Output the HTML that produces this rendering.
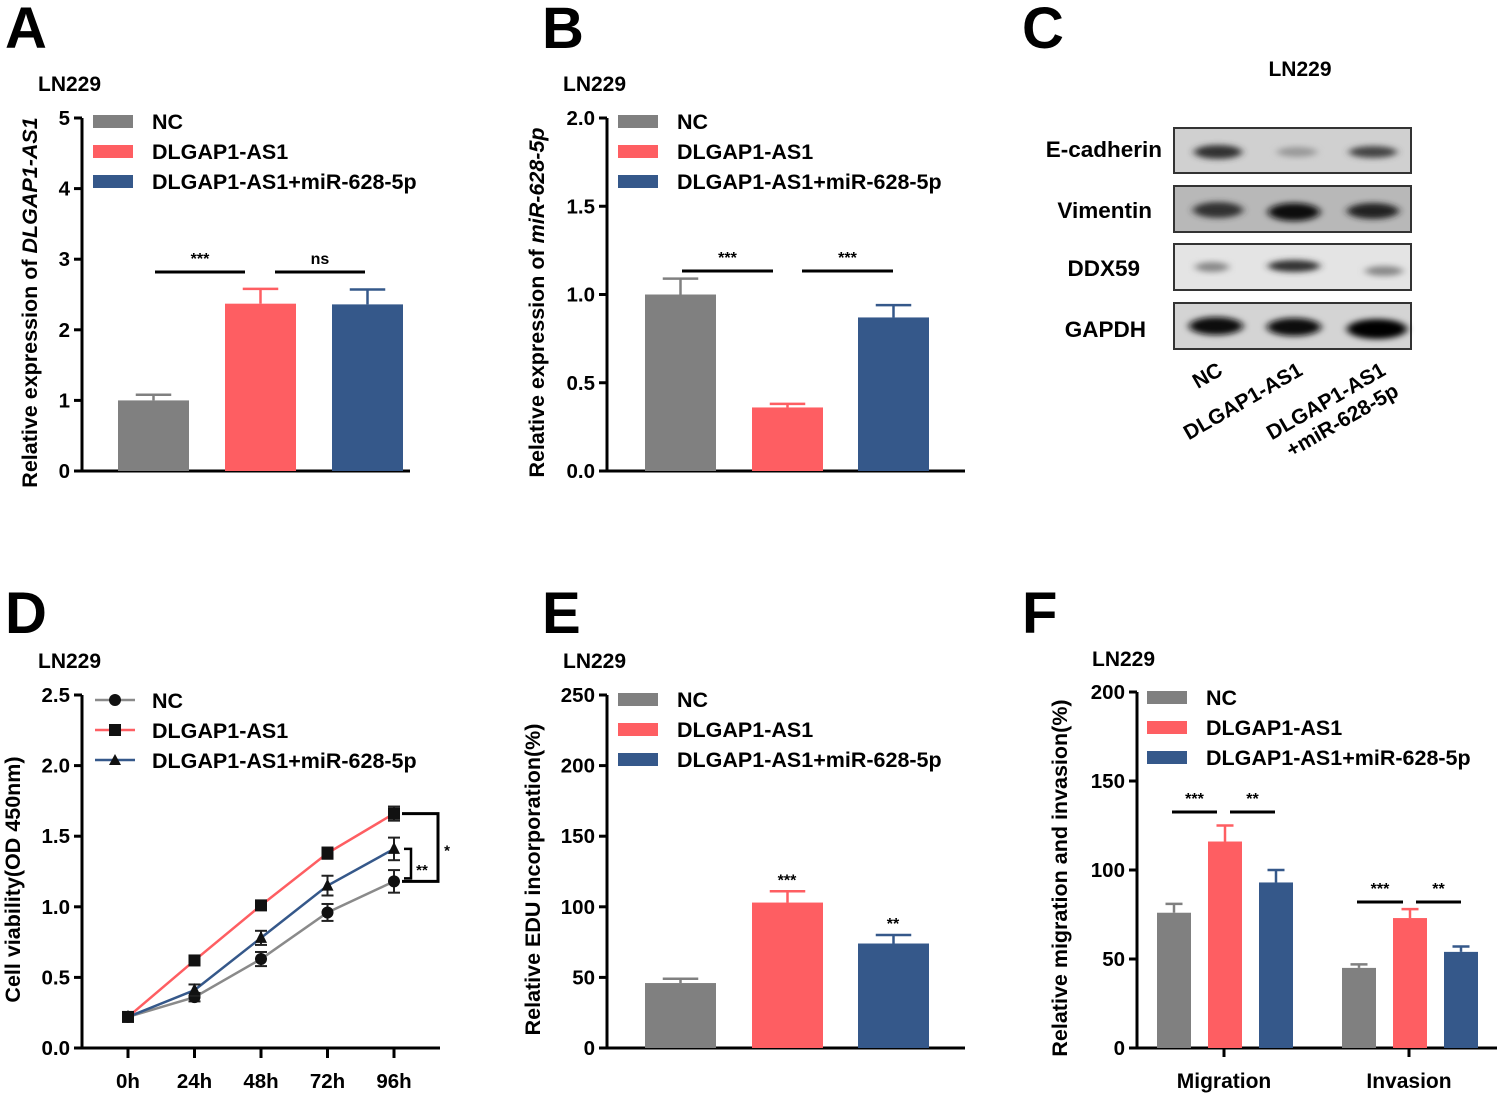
<!DOCTYPE html>
<html><head><meta charset="utf-8"><style>
html,body{margin:0;padding:0;background:#fff;}
svg{display:block;font-family:"Liberation Sans",Arial,sans-serif;font-weight:bold;}
</style></head><body>
<svg id="fig" width="1500" height="1095" viewBox="0 0 1500 1095" xmlns="http://www.w3.org/2000/svg">
<defs>
<filter id="blur" x="-20%" y="-50%" width="140%" height="200%"><feGaussianBlur stdDeviation="4 3"/></filter>
</defs>
<text x="5" y="48" font-size="58">A</text>
<text x="542" y="48" font-size="58">B</text>
<text x="1022" y="48" font-size="58">C</text>
<text x="5" y="633" font-size="58">D</text>
<text x="542" y="633" font-size="58">E</text>
<text x="1022" y="633" font-size="58">F</text>
<text x="38" y="91" font-size="21">LN229</text>
<text x="563" y="91" font-size="21">LN229</text>
<text x="1300" y="76" font-size="21" text-anchor="middle">LN229</text>
<text x="38" y="668" font-size="21">LN229</text>
<text x="563" y="668" font-size="21">LN229</text>
<text x="1092" y="666" font-size="21">LN229</text>

<g>
  <g>
    <rect x="1174" y="128" width="237" height="45" fill="#d0d0d0" stroke="#333" stroke-width="2"/>
    <ellipse cx="1218" cy="152" rx="24" ry="7" fill="#333" filter="url(#blur)"/>
    <ellipse cx="1297" cy="152" rx="20" ry="5" fill="#999" filter="url(#blur)"/>
    <ellipse cx="1373" cy="152" rx="24" ry="6" fill="#444" filter="url(#blur)"/>
  </g>
  <g>
    <rect x="1174" y="186" width="237" height="46" fill="#b8b8b8" stroke="#333" stroke-width="2"/>
    <ellipse cx="1218" cy="210" rx="25" ry="8" fill="#333" filter="url(#blur)"/>
    <ellipse cx="1294" cy="212" rx="26" ry="9" fill="#111" filter="url(#blur)"/>
    <ellipse cx="1373" cy="211" rx="26" ry="8" fill="#222" filter="url(#blur)"/>
  </g>
  <g>
    <rect x="1174" y="244" width="237" height="46" fill="#e4e4e4" stroke="#333" stroke-width="2"/>
    <ellipse cx="1212" cy="267" rx="17" ry="5" fill="#888" filter="url(#blur)"/>
    <ellipse cx="1294" cy="266" rx="26" ry="6" fill="#333" filter="url(#blur)"/>
    <ellipse cx="1384" cy="271" rx="19" ry="5" fill="#888" filter="url(#blur)"/>
  </g>
  <g>
    <rect x="1174" y="303" width="237" height="46" fill="#d4d4d4" stroke="#333" stroke-width="2"/>
    <ellipse cx="1216" cy="326" rx="27" ry="9" fill="#111" filter="url(#blur)"/>
    <ellipse cx="1294" cy="327" rx="27" ry="9" fill="#111" filter="url(#blur)"/>
    <ellipse cx="1377" cy="329" rx="30" ry="10" fill="#000" filter="url(#blur)"/>
  </g>
  <text x="1162" y="157" font-size="22.5" text-anchor="end">E-cadherin</text>
  <text x="1152" y="218" font-size="22.5" text-anchor="end">Vimentin</text>
  <text x="1140" y="276" font-size="22.5" text-anchor="end">DDX59</text>
  <text x="1146" y="337" font-size="22.5" text-anchor="end">GAPDH</text>
  <text transform="translate(1224,374) rotate(-30)" font-size="21" text-anchor="end">NC</text>
  <text transform="translate(1304,374) rotate(-30)" font-size="21" text-anchor="end">DLGAP1-AS1</text>
  <text transform="translate(1387,374) rotate(-30)" font-size="21" text-anchor="end">DLGAP1-AS1</text>
  <text transform="translate(1400,395) rotate(-30)" font-size="21" text-anchor="end">+miR-628-5p</text>
</g>
<g id="charts"></g>
</svg>
<script>
// ---- Data ----
const groups = ["NC", "DLGAP1-AS1", "DLGAP1-AS1+miR-628-5p"];
const colors = ["#808080", "#fe5e62", "#35588a"];
const aValues = [1.0, 2.37, 2.36];
const aErrors = [0.08, 0.21, 0.21];
const aTicks = [0, 1, 2, 3, 4, 5];
const bValues = [1.0, 0.36, 0.87];
const bErrors = [0.09, 0.02, 0.07];
const bTicks = [0, 0.5, 1.0, 1.5, 2.0];
const bTickLabels = ["0.0", "0.5", "1.0", "1.5", "2.0"];
const eValues = [46, 103, 74];
const eErrors = [3, 8, 6];
const eTicks = [0, 50, 100, 150, 200, 250];
const eMarks = ["", "***", "**"];
const fCategories = ["Migration", "Invasion"];
const fValues = [[76, 116, 93], [45, 73, 54]];
const fErrors = [[5, 9, 7], [2, 5, 3]];
const fTicks = [0, 50, 100, 150, 200];
const dTimes = ["0h", "24h", "48h", "72h", "96h"];
const dNC = [0.22, 0.36, 0.63, 0.96, 1.18];
const dAS1 = [0.22, 0.62, 1.01, 1.38, 1.66];
const dCombo = [0.22, 0.41, 0.78, 1.15, 1.41];
const dErrNC = [0.02, 0.03, 0.05, 0.06, 0.08];
const dErrAS1 = [0.02, 0.03, 0.03, 0.04, 0.05];
const dErrCombo = [0.02, 0.04, 0.05, 0.07, 0.08];
const dTicks = [0, 0.5, 1.0, 1.5, 2.0, 2.5];
const dTickLabels = ["0.0", "0.5", "1.0", "1.5", "2.0", "2.5"];

const NS = "http://www.w3.org/2000/svg";
const root = document.getElementById("charts");
const LEG = 21.5, TICK = 20.5, YT = 21.5;
function mk(tag, attrs, parent) {
  const e = document.createElementNS(NS, tag);
  for (const k in attrs) e.setAttribute(k, attrs[k]);
  (parent || root).appendChild(e);
  return e;
}
function txt(s, attrs, parent) { const t = mk("text", attrs, parent); t.textContent = s; return t; }

function axes(name, ax, y0, y1, xEnd, ticks, labels, vmax, ylabel, ylabelX, italicPart) {
  const g = mk("g", {});
  
  
  const ys = v => y0 - (v / vmax) * (y0 - y1);
  mk("line", {x1: ax, y1: y1, x2: ax, y2: y0 + 1.5, stroke: "#000", "stroke-width": 3}, g);
  mk("line", {x1: ax - 1.5, y1: y0, x2: xEnd, y2: y0, stroke: "#000", "stroke-width": 3}, g);
  ticks.forEach((t, i) => {
    const y = ys(t);
    mk("line", {x1: ax - 8, y1: y, x2: ax, y2: y, stroke: "#000", "stroke-width": 3}, g);
    const tl = txt(labels ? labels[i] : String(t), {x: ax - 12, y: y + 7, "font-size": TICK, "text-anchor": "end"}, g);
    
    
  });
  const yl = mk("text", {transform: `translate(${ylabelX},${(y0 + y1) / 2 + 8}) rotate(-90)`, "font-size": YT, "text-anchor": "middle"}, g);
  
  
  const s1 = document.createElementNS(NS, "tspan"); s1.textContent = ylabel; yl.appendChild(s1);
  if (italicPart) { const s2 = document.createElementNS(NS, "tspan"); s2.setAttribute("font-style", "italic"); s2.textContent = italicPart; yl.appendChild(s2); }
  return ys;
}
function legendBars(name, x, y) {
  groups.forEach((gname, i) => {
    const r = mk("rect", {x: x, y: y + i * 30 - 6, width: 40, height: 13, fill: colors[i]});
    
    
    const t = txt(gname, {x: x + 59, y: y + i * 30 + 8, "font-size": LEG});
    
    
  });
}
function bar(name, x, w, v, err, color, ys) {
  const r = mk("rect", {x: x, y: ys(v), width: w, height: ys(0) - ys(v), fill: color});
  
  
  const cx = x + w / 2, ye = ys(v + err);
  mk("line", {x1: cx, y1: ys(v), x2: cx, y2: ye, stroke: color, "stroke-width": 2.5});
  mk("line", {x1: cx - w * 0.25, y1: ye, x2: cx + w * 0.25, y2: ye, stroke: color, "stroke-width": 2.5});
}
function sig(x1, x2, y, label, fs) {
  mk("line", {x1: x1, y1: y, x2: x2, y2: y, stroke: "#000", "stroke-width": 3});
  const t = txt(label, {x: (x1 + x2) / 2, y: y - 8, "font-size": fs || 16, "text-anchor": "middle"});
  
  
}

// ---- Panel A ----
{
  const ys = axes("panel-a", 82, 471, 118, 410, aTicks, null, 5, "Relative expression of ", 37, "DLGAP1-AS1");
  const bx = [118, 225, 332];
  aValues.forEach((v, i) => bar("panel-a-bar-" + i, bx[i], 71, v, aErrors[i], colors[i], ys));
  sig(155, 245, 272, "***"); sig(275, 365, 272, "ns");
  legendBars("panel-a", 93, 121);
}
// ---- Panel B ----
{
  const ys = axes("panel-b", 607, 471, 118, 965, bTicks, bTickLabels, 2, "Relative expression of ", 544, "miR-628-5p");
  const bx = [645, 752, 858];
  bValues.forEach((v, i) => bar("panel-b-bar-" + i, bx[i], 71, v, bErrors[i], colors[i], ys));
  sig(682, 773, 271, "***"); sig(802, 893, 271, "***");
  legendBars("panel-b", 618, 121);
}
// ---- Panel E ----
{
  const ys = axes("panel-e", 607, 1048, 695, 965, eTicks, null, 250, "Relative EDU incorporation(%)", 540);
  const bx = [645, 752, 858];
  eValues.forEach((v, i) => {
    bar("panel-e-bar-" + i, bx[i], 71, v, eErrors[i], colors[i], ys);
    if (eMarks[i]) { txt(eMarks[i], {x: bx[i] + 35, y: ys(v + eErrors[i]) - 6, "font-size": 16, "text-anchor": "middle"}); }
  });
  legendBars("panel-e", 618, 699);
}
// ---- Panel F ----
{
  const ys = axes("panel-f", 1137, 1048, 692, 1497, fTicks, null, 200, "Relative migration and invasion(%)", 1067);
  const gx = [1157, 1342];
  fCategories.forEach((c, ci) => {
    fValues[ci].forEach((v, i) => bar("panel-f-bar-" + c.toLowerCase() + "-" + i, gx[ci] + i * 51, 34, v, fErrors[ci][i], colors[i], ys));
    const cx = gx[ci] + 67;
    mk("line", {x1: cx, y1: 1048, x2: cx, y2: 1057, stroke: "#000", "stroke-width": 3});
    const t = txt(c, {x: cx, y: 1088, "font-size": 21, "text-anchor": "middle"});
    
    
  });
  sig(1172, 1217, 812, "***"); sig(1230, 1275, 812, "**");
  sig(1357, 1403, 902, "***"); sig(1416, 1461, 902, "**");
  legendBars("panel-f", 1147, 697);
}
// ---- Panel D ----
{
  const ys = axes("panel-d", 82, 1048, 695, 440, dTicks, dTickLabels, 2.5, "Cell viability(OD 450nm)", 20);
  const xs = i => 128 + i * 66.5;
  dTimes.forEach((t, i) => {
    mk("line", {x1: xs(i), y1: 1048, x2: xs(i), y2: 1058, stroke: "#000", "stroke-width": 3});
    const tl = txt(t, {x: xs(i), y: 1088, "font-size": TICK, "text-anchor": "middle"});
    
    
  });
  const series = [[dNC, dErrNC, "#8a8a8a", "circle"], [dCombo, dErrCombo, "#35588a", "tri"], [dAS1, dErrAS1, "#fe5e62", "square"]];
  series.forEach(([vals, errs, col, shape]) => {
    const pts = vals.map((v, i) => xs(i) + "," + ys(v)).join(" ");
    const pl = mk("polyline", {points: pts, fill: "none", stroke: col, "stroke-width": 2.5});
    
    
    vals.forEach((v, i) => {
      const x = xs(i), y = ys(v);
      mk("line", {x1: x, y1: ys(v - errs[i]), x2: x, y2: ys(v + errs[i]), stroke: "#222", "stroke-width": 2});
      mk("line", {x1: x - 6, y1: ys(v + errs[i]), x2: x + 6, y2: ys(v + errs[i]), stroke: "#222", "stroke-width": 2});
      mk("line", {x1: x - 6, y1: ys(v - errs[i]), x2: x + 6, y2: ys(v - errs[i]), stroke: "#222", "stroke-width": 2});
      let m;
      if (shape === "circle") m = mk("circle", {cx: x, cy: y, r: 6, fill: "#111"});
      else if (shape === "square") m = mk("rect", {x: x - 6, y: y - 6, width: 12, height: 12, fill: "#111"});
      else m = mk("polygon", {points: `${x},${y - 7} ${x - 6},${y + 5} ${x + 6},${y + 5}`, fill: "#111"});
      
      
    });
  });
  const last = dTimes.length - 1;
  const yA = ys(dAS1[last]), yN = ys(dNC[last]), yC = ys(dCombo[last]);
  mk("polyline", {points: `${xs(last) + 8},${yA} 438,${yA} 438,${yN} ${xs(last) + 8},${yN}`, fill: "none", stroke: "#000", "stroke-width": 3});
  mk("polyline", {points: `${xs(last) + 10},${yC} 411,${yC} 411,${yN - 3} ${xs(last) + 10},${yN - 3}`, fill: "none", stroke: "#000", "stroke-width": 2.5});
  txt("*", {x: 447, y: (yA + yN) / 2 + 8, "font-size": 15, "text-anchor": "middle"});
  txt("**", {x: 422, y: (yC + yN) / 2 + 10, "font-size": 15, "text-anchor": "middle"});
  const lcols = ["#8a8a8a", "#fe5e62", "#35588a"], lshapes = ["circle", "square", "tri"];
  groups.forEach((gname, i) => {
    const y = 700 + i * 30;
    mk("line", {x1: 95, y1: y, x2: 135, y2: y, stroke: lcols[i], "stroke-width": 2.5});
    if (lshapes[i] === "circle") mk("circle", {cx: 115, cy: y, r: 6, fill: "#111"});
    else if (lshapes[i] === "square") mk("rect", {x: 109, y: y - 6, width: 12, height: 12, fill: "#111"});
    else mk("polygon", {points: `115,${y - 6} 109,${y + 5} 121,${y + 5}`, fill: "#111"});
    const t = txt(gname, {x: 152, y: y + 8, "font-size": LEG});
    
    
  });
}
</script>
</body></html>
